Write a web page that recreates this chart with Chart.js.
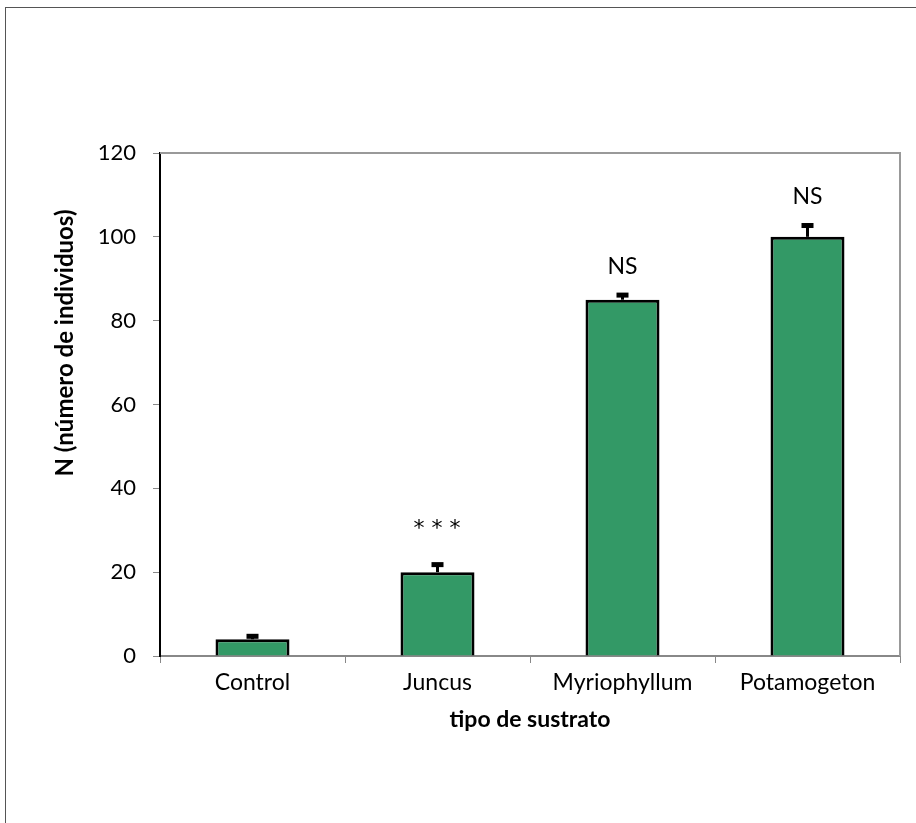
<!DOCTYPE html>
<html>
<head>
<meta charset="utf-8">
<script src="https://cdn.jsdelivr.net/npm/chart.js@4"></script>
<style>
  html, body { margin: 0; padding: 0; background: #fff; }
  #wrap { position: relative; width: 916px; height: 823px; overflow: hidden; }
  #frame { position: absolute; left: 5px; top: 7px; width: 1000px; height: 1000px; border-left: 1px solid #555; border-top: 1px solid #555; }
  canvas { position: absolute; left: 0; top: 0; }
</style>
</head>
<body>
<div id="wrap">
  <div id="frame"></div>
  <canvas id="chart" width="916" height="823"></canvas>
</div>
<script>
const categories = ['Control', 'Juncus', 'Myriophyllum', 'Potamogeton'];
const values = [4, 20, 85, 100];
const errors = [0.7, 1.8, 1.1, 2.7];
const marks = ['', '***', 'NS', 'NS'];
const yTicks = [0, 20, 40, 60, 80, 100, 120];

const FONT = 'Lato, "Open Sans", sans-serif';

// error bars (upper half only), significance marks, axis titles, plot frame
const extras = {
  id: 'extras',
  afterDatasetsDraw(chart) {
    const ctx = chart.ctx;
    const x = chart.scales.x;
    const y = chart.scales.y;
    const area = chart.chartArea;

    ctx.save();
    ctx.strokeStyle = '#999';
    ctx.lineWidth = 2;
    ctx.beginPath();
    ctx.moveTo(area.left, area.top);
    ctx.lineTo(area.right, area.top);
    ctx.lineTo(area.right, area.bottom);
    ctx.stroke();

    ctx.fillStyle = '#000';
    for (let i = 0; i < values.length; i++) {
      const cx = x.getPixelForValue(i);
      const top = y.getPixelForValue(values[i]);
      const end = y.getPixelForValue(values[i] + errors[i]);
      ctx.fillRect(cx - 1.5, end, 3, top - end);
      ctx.fillRect(cx - 6, end - 2.5, 12, 5);

      if (marks[i]) {
        ctx.textAlign = 'center';
        ctx.textBaseline = 'middle';
        if (marks[i] === '***') {
          ctx.font = '22px "DejaVu Sans", sans-serif';
          ctx.letterSpacing = '7px';
          ctx.fillText(marks[i], cx + 3, end - 35);
          ctx.letterSpacing = '0px';
        } else {
          ctx.font = '23px ' + FONT;
          ctx.fillText(marks[i], cx, end - 29);
        }
      }
    }

    ctx.font = 'bold 23px ' + FONT;
    ctx.textAlign = 'center';
    ctx.textBaseline = 'middle';
    ctx.fillText('tipo de sustrato', (area.left + area.right) / 2, 720);

    ctx.font = 'bold 24px ' + FONT;
    ctx.translate(65, 343);
    ctx.rotate(-Math.PI / 2);
    ctx.fillText('N (número de individuos)', 0, 0);
    ctx.restore();
  }
};

new Chart(document.getElementById('chart'), {
  type: 'bar',
  data: {
    labels: categories,
    datasets: [
      {
        data: values,
        backgroundColor: '#339966',
        borderColor: '#000',
        borderWidth: 3,
        barPercentage: 0.4,
        categoryPercentage: 1,
      },
    ],
  },
  options: {
    responsive: false,
    animation: false,
    layout: {
      padding: { left: 0, top: 153, right: 16, bottom: 0 },
    },
    scales: {
      x: {
        grid: {
          offset: true,
          drawOnChartArea: false,
          color: '#888',
          tickLength: 7,
        },
        border: { color: '#888', width: 2 },
        ticks: {
          color: '#000',
          padding: 6,
          font: { family: FONT, size: 23 },
        },
        afterFit(scale) {
          scale.height = 167;
        },
      },
      y: {
        min: 0,
        max: 120,
        afterBuildTicks(scale) {
          scale.ticks = yTicks.map(v => ({ value: v }));
        },
        grid: {
          drawOnChartArea: false,
          color: '#888',
          tickLength: 7,
        },
        border: { color: '#000', width: 2 },
        ticks: {
          color: '#000',
          padding: 17,
          font: { family: FONT, size: 22 },
        },
        afterFit(scale) {
          scale.width = 160;
        },
      },
    },
    plugins: {
      legend: { display: false },
      tooltip: { enabled: false },
    },
  },
  plugins: [extras],
});
</script>
</body>
</html>
